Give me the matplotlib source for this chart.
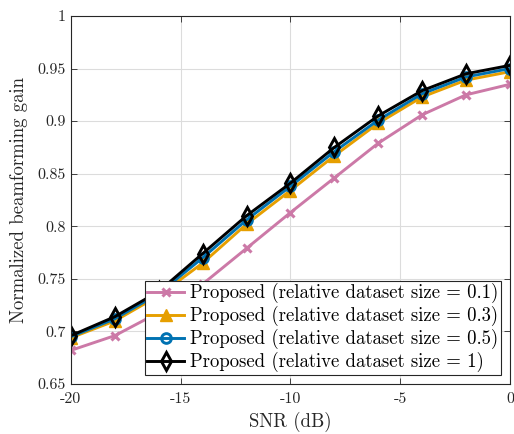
import matplotlib
matplotlib.use("Agg")
import matplotlib.pyplot as plt

plt.rcParams['font.family'] = 'serif'
plt.rcParams['font.serif'] = ['cmr10', 'DejaVu Serif']
plt.rcParams['mathtext.fontset'] = 'cm'
plt.rcParams['axes.unicode_minus'] = False
plt.rcParams['axes.formatter.use_mathtext'] = True

snr = [-20, -18, -16, -14, -12, -10, -8, -6, -4, -2, 0]
gain_01 = [0.682, 0.696, 0.718, 0.745, 0.779, 0.813, 0.846, 0.879, 0.906, 0.925, 0.935]
gain_03 = [0.694, 0.710, 0.734, 0.765, 0.802, 0.834, 0.867, 0.898, 0.923, 0.939, 0.947]
gain_05 = [0.695, 0.712, 0.736, 0.770, 0.806, 0.838, 0.871, 0.901, 0.926, 0.942, 0.950]
gain_1 = [0.696, 0.714, 0.738, 0.774, 0.810, 0.841, 0.875, 0.905, 0.929, 0.945, 0.953]
labels = ['Proposed (relative dataset size = 0.1)',
          'Proposed (relative dataset size = 0.3)',
          'Proposed (relative dataset size = 0.5)',
          'Proposed (relative dataset size = 1)']
xticks = [-20, -15, -10, -5, 0]
yticks = [0.65, 0.7, 0.75, 0.8, 0.85, 0.9, 0.95, 1]
yticklabels = ['0.65', '0.7', '0.75', '0.8', '0.85', '0.9', '0.95', '1']

fig = plt.figure(figsize=(5.14, 4.34), dpi=100)
ax = fig.add_axes([0.138, 0.1152, 0.854, 0.848])

lw = 2.1
ax.plot(snr, gain_01, color='#CC79A7', lw=lw, marker='x', ms=6, mew=2.2, label=labels[0])
ax.plot(snr, gain_03, color='#E69F00', lw=lw, marker='^', ms=8, mfc='#E69F00', label=labels[1])
ax.plot(snr, gain_05, color='#0072B2', lw=lw, marker='o', ms=7, mfc='none', mew=2.1, label=labels[2])
ax.plot(snr, gain_1, color='black', lw=lw, marker='d', ms=9, mfc='none', mew=2.1, label=labels[3])

ax.set_xlim(-20, 0)
ax.set_ylim(0.65, 1)
ax.set_xticks(xticks)
ax.set_xticklabels([str(t) for t in xticks])
ax.set_yticks(yticks)
ax.set_yticklabels(yticklabels)
ax.tick_params(direction='in', top=True, right=True, labelsize=11.5, length=4, width=0.6,
               colors='#262626', labelcolor='#262626')
ax.tick_params(axis='x', pad=6)
ax.grid(True, color='#dcdcdc', lw=0.8)
ax.set_axisbelow(True)
for s in ax.spines.values():
    s.set_linewidth(0.8)
    s.set_color('#262626')

ax.set_xlabel('SNR (dB)', fontsize=13.5, color='#262626', labelpad=4)
ax.set_ylabel('Normalized beamforming gain', fontsize=13.5, color='#262626', labelpad=7)

leg = ax.legend(loc='lower right', fontsize=13.5, frameon=True, fancybox=False,
                edgecolor='#262626', framealpha=1, borderaxespad=0.5,
                handlelength=2.0, handletextpad=0.3, labelspacing=0.15, borderpad=0.12)
leg.get_frame().set_linewidth(0.8)

fig.savefig('out.png', dpi=100)
